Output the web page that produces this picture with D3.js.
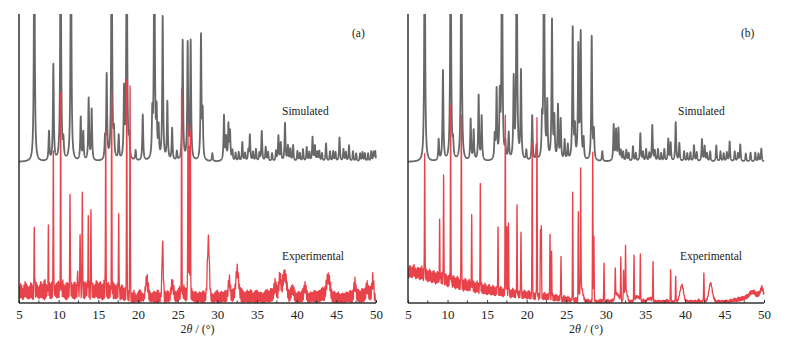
<!DOCTYPE html>
<html>
<head>
<meta charset="utf-8">
<script src="https://cdn.jsdelivr.net/npm/d3@7"></script>
<style>
  body { margin: 0; background: #fff; }
  svg text { font-family: "Liberation Serif", "DejaVu Serif", serif; fill: #222; }
</style>
</head>
<body>
<svg id="chart" width="798" height="344"></svg>
<script>
// ---- data ----
const xTicks = [5, 10, 15, 20, 25, 30, 35, 40, 45, 50];
const xMinor = [7.5, 12.5, 17.5, 22.5, 27.5, 32.5, 37.5, 42.5, 47.5];
const bgStep = 0.25; // noise band read every 0.25 degrees from 5 to 50

// simulated pattern (a): [2theta, intensity]
const simPeaksA = [
  [6.93, 260], [8.78, 29], [9.33, 96], [10.25, 260], [10.6, 17], [11.55, 260], [12.78, 43], [13.1, 28],
  [13.78, 62], [14.16, 51], [15.84, 19], [16.05, 84], [16.68, 260], [16.97, 24], [17.57, 24], [18.24, 68],
  [18.58, 260], [18.9, 20], [19.7, 10], [20.6, 46], [21.8, 42], [22.06, 260], [22.35, 44], [22.6, 30],
  [23.11, 143], [23.7, 58], [24.3, 32], [24.9, 9], [25.63, 120], [26.26, 116], [26.64, 118], [27.94, 124],
  [28.15, 45], [29.37, 8], [30.84, 45], [31.1, 22], [31.4, 35], [31.6, 28], [31.9, 10], [32.3, 8],
  [32.7, 9], [33.15, 19], [33.5, 8], [33.9, 10], [34.1, 26], [34.5, 9], [34.87, 12], [35.3, 8],
  [35.6, 30], [36.1, 14], [36.4, 9], [36.9, 8], [37.4, 10], [37.7, 25], [38.0, 18], [38.53, 38],
  [38.9, 15], [39.2, 12], [39.55, 16], [40.1, 10], [40.4, 8], [40.8, 12], [41.27, 14], [41.6, 9],
  [42.0, 24], [42.3, 15], [42.6, 9], [42.86, 10], [43.2, 8], [43.7, 18], [44.2, 10], [44.6, 10],
  [44.9, 9], [45.4, 24], [45.9, 12], [46.2, 9], [46.6, 16], [47.1, 10], [47.5, 8], [48.0, 8],
  [48.3, 9], [48.6, 8], [49.0, 8], [49.4, 10], [49.7, 9], [49.9, 10]
];

// simulated pattern (b)
const simPeaksB = [
  [7.11, 260], [8.88, 21], [9.42, 90], [10.39, 260], [10.7, 15], [11.74, 260], [12.92, 41], [13.3, 30],
  [13.93, 65], [14.31, 44], [15.96, 23], [16.2, 69], [16.6, 60], [16.88, 260], [17.3, 15], [17.73, 26],
  [18.36, 79], [18.74, 260], [19.28, 88], [19.96, 10], [20.7, 45], [21.25, 15], [21.94, 35], [22.19, 260],
  [22.6, 55], [23.2, 139], [23.5, 40], [23.96, 54], [24.3, 40], [24.8, 20], [25.2, 15], [25.82, 132],
  [26.1, 30], [26.53, 112], [26.83, 125], [27.2, 20], [28.22, 124], [28.5, 28], [29.56, 10], [31.0, 36],
  [31.3, 30], [31.6, 32], [31.9, 10], [32.2, 9], [32.6, 11], [32.9, 8], [33.44, 15], [33.8, 8],
  [34.37, 28], [34.7, 9], [35.1, 12], [35.5, 8], [35.88, 36], [36.2, 10], [36.6, 12], [37.0, 8],
  [37.4, 12], [37.9, 22], [38.2, 18], [38.84, 39], [39.3, 18], [39.9, 10], [40.3, 8], [40.7, 9],
  [41.15, 16], [41.5, 9], [42.16, 22], [42.5, 15], [42.8, 8], [43.2, 10], [43.97, 16], [44.5, 10],
  [44.9, 8], [45.3, 9], [45.66, 20], [46.3, 10], [46.7, 8], [47.0, 17], [47.7, 8], [48.3, 9],
  [48.9, 9], [49.3, 8], [49.66, 13]
];

// experimental (a): sharp reflections [2theta, intensity]
const expSharpA = [
  [6.93, 64], [8.7, 60], [9.33, 143], [10.25, 192], [11.43, 99], [12.4, 21], [12.7, 63], [12.98, 105],
  [13.73, 67], [14.07, 83], [15.93, 165], [16.68, 192], [17.57, 78], [18.58, 220], [19.0, 216],
  [25.5, 203], [26.3, 172], [26.45, 150], [26.6, 163]
];
// experimental (a): broad humps [2theta, intensity, width]
const expBroadA = [
  [21.1, 16, 0.15], [23.1, 52, 0.08], [24.3, 12, 0.15], [28.87, 55, 0.12], [31.5, 14, 0.12],
  [32.5, 26, 0.18], [37.3, 8, 0.15], [37.9, 16, 0.12], [38.5, 20, 0.2], [39.5, 8, 0.15],
  [41.05, 10, 0.12], [44.0, 18, 0.2], [47.35, 12, 0.12], [48.9, 8, 0.12], [49.6, 16, 0.1]
];
// experimental (a): lower and upper edge of the noise band, 5..50 every 0.25
const expLowA = [
  4, 6, 3, 7, 5, 4, 6, 3, 5, 7, 4, 6, 5, 3, 7, 5, 4, 6, 8, 5,
  6, 4, 7, 5, 3, 6, 8, 5, 4, 6, 7, 5, 6, 4, 8, 5, 3, 6, 5, 7,
  4, 6, 3, 5, 7, 4, 6, 3, 5, 4, 6, 3, 5, 2, 4, 3, 1,
  1, 0, 2, 1, 0, 3, 1, 2, 0, 1, 2,
  1, 0, 2, 1, 3, 0, 1, 2, 0, 1, 2, 1,
  2, 4, 3, 5, 2, 4, 1, 3, 2, 1, 0, 2,
  1, 0, 2, 1, 3, 1, 0, 2, 1, 0, 1, 2,
  1, 2, 3, 1, 2, 0, 1, 2, 1, 0, 2, 1,
  0, 1, 2, 0, 1, 2, 1, 0, 1, 2, 1, 2,
  2, 3, 2, 4, 3, 5, 2, 3, 1, 2, 1, 0,
  1, 0, 2, 1, 2, 1, 0, 1, 2, 1, 0, 1,
  2, 3, 2, 4, 2, 1, 0, 1, 0, 1, 0, 1,
  0, 1, 2, 1, 0, 2, 1, 2, 0, 1, 2, 3,
  2, 3, 2, 1, 0
];
const expHighA = [
  16, 20, 14, 22, 18, 15, 21, 17, 24, 19, 15, 22, 18, 25, 16, 21, 19, 23, 17, 20,
  22, 18, 24, 16, 21, 19, 25, 17, 22, 18, 20, 24, 17, 22, 19, 26, 18, 21, 16, 23,
  19, 22, 17, 24, 18, 21, 16, 23, 19, 17, 21, 15, 19, 14, 17, 12, 13,
  9, 13, 7, 11, 14, 10, 8, 12, 15, 11, 9,
  12, 10, 14, 9, 11, 15, 10, 13, 8, 12, 14, 10,
  13, 17, 12, 19, 14, 16, 13, 15, 10, 12, 9, 11,
  10, 13, 9, 14, 12, 10, 8, 11, 13, 9, 12, 10,
  13, 11, 15, 12, 14, 10, 13, 11, 15, 12, 10, 13,
  11, 14, 9, 12, 13, 10, 11, 9, 12, 14, 11, 15,
  13, 17, 14, 18, 15, 19, 13, 16, 11, 14, 10, 12,
  9, 12, 10, 14, 11, 13, 9, 11, 10, 13, 11, 12,
  13, 16, 14, 17, 12, 14, 10, 12, 9, 11, 8, 10,
  9, 11, 10, 13, 11, 15, 12, 14, 11, 15, 13, 16,
  13, 17, 14, 15, 3
];

// experimental (b)
const expSharpB = [
  [7.11, 125], [9.0, 57], [9.5, 108], [10.39, 171], [11.74, 170], [13.05, 68], [14.14, 104], [16.38, 64],
  [17.3, 178], [17.5, 66], [17.7, 69], [18.78, 86], [19.28, 65], [20.7, 153], [21.3, 175], [21.75, 64],
  [21.85, 69], [22.95, 64], [23.15, 45], [24.34, 43], [25.82, 107], [26.53, 88], [26.83, 120],
  [28.35, 149], [28.5, 66], [29.78, 40], [31.2, 28], [31.9, 44], [32.25, 26], [32.5, 44], [33.57, 46],
  [34.37, 46], [35.97, 40], [38.2, 32], [38.84, 25], [42.4, 29]
];
const expBroadB = [
  [26.9, 15, 0.18], [31.4, 8, 0.25], [32.5, 12, 0.18], [34.0, 5, 0.25], [35.5, 3, 0.25],
  [39.6, 16, 0.22], [43.25, 18, 0.22], [48.5, 4, 0.35], [49.7, 6, 0.18]
];
const expLowB = [
  24, 27, 25, 28, 24, 26, 23, 25, 22, 24, 21, 23, 20, 22, 19, 21, 18, 20, 17, 19,
  16, 18, 15, 17, 14, 16, 13, 15, 12, 14, 12, 13, 11, 12, 10, 12, 9, 11, 9, 10,
  8, 10, 8, 9, 7, 9, 7, 8, 6, 8, 6, 7, 5, 7, 5, 6, 5, 6, 4, 6,
  4, 5, 4, 5, 3, 5, 3, 4, 3, 4, 3, 4, 2, 3, 2, 3, 2, 3, 1, 2,
  1, 2, 1, 2, 1, 1, 0, 1, 0, 1, 0, 1, 0, 1, 0, 1, 0, 0, 1, 0,
  0, 1, 0, 1, 0, 1, 0, 1, 0, 1, 0, 1, 0, 1, 0, 1, 0, 1, 0, 1,
  0, 1, 0, 1, 0, 1, 0, 1, 0, 1, 0, 1, 0, 1, 0, 1, 0, 1, 0, 1,
  0, 1, 0, 1, 0, 1, 0, 1, 0, 1, 0, 1, 0, 1, 0, 1, 0, 1, 0, 1,
  0, 1, 0, 1, 1, 2, 1, 2, 2, 3, 3, 4, 4, 5, 5, 6, 5, 6, 6, 7,
  6
];
const expHighB = [
  34, 38, 35, 39, 33, 36, 34, 37, 32, 35, 31, 34, 30, 33, 29, 32, 28, 31, 27, 30,
  26, 29, 25, 28, 24, 27, 23, 26, 22, 25, 21, 24, 20, 23, 19, 22, 18, 21, 17, 20,
  16, 19, 15, 18, 15, 17, 14, 17, 13, 16, 13, 15, 12, 15, 12, 14, 11, 14, 11, 13,
  10, 13, 10, 12, 9, 12, 9, 11, 8, 11, 8, 10, 7, 10, 7, 9, 6, 9, 5, 8,
  5, 7, 4, 6, 4, 6, 3, 5, 3, 5, 3, 4, 2, 4, 2, 3, 2, 4, 3, 4,
  2, 4, 2, 4, 2, 3, 2, 4, 2, 3, 2, 4, 2, 3, 2, 4, 2, 3, 2, 4,
  2, 3, 2, 4, 2, 3, 2, 3, 2, 3, 2, 4, 2, 3, 2, 3, 2, 3, 2, 4,
  2, 3, 2, 3, 2, 3, 2, 4, 2, 3, 2, 3, 2, 3, 2, 4, 2, 3, 2, 3,
  2, 3, 2, 4, 3, 5, 4, 6, 5, 7, 6, 8, 7, 9, 8, 10, 9, 11, 9, 12,
  10
];

// ---- layout ----
const svg = d3.select('#chart');
const plotTop = 14, plotBottom = 303;
const simOffset = 141;          // simulated trace sits above the experimental one
const grayColor = '#68686a', redColor = '#e8434b';

const panels = [
  { id: 'a', left: 19, right: 376, sim: simPeaksA, sharp: expSharpA, broad: expBroadA,
    low: expLowA, high: expHighA, label: '(a)', labelX: 352, simX: 282, expX: 282 },
  { id: 'b', left: 408, right: 764, sim: simPeaksB, sharp: expSharpB, broad: expBroadB,
    low: expLowB, high: expHighB, label: '(b)', labelX: 741, simX: 678, expX: 680 }
];

// sample grid for the traces
const grid = d3.range(5, 50.0001, 0.01);
const wiggle = 0.07; // the trace swings between the band edges every 0.07 degrees

function simProfile(peaks, t) {
  // lorentzian peak shape for the calculated pattern
  let s = 0;
  for (const [c, h] of peaks) {
    const d = (t - c) / 0.065;
    s += h / (1 + d * d);
  }
  return s;
}

// band edge at t, linear between the read samples
function edge(arr, t) {
  const u = Math.max(0, (t - 5) / bgStep);
  const i = Math.min(Math.floor(u), arr.length - 2);
  const f = Math.min(1, u - i);
  return arr[i] * (1 - f) + arr[i + 1] * f;
}

function noise(p, t) {
  const k = Math.floor((t - 5) / wiggle + 1e-9);
  const t0 = 5 + k * wiggle, t1 = t0 + wiggle;
  const v0 = k % 2 ? edge(p.high, t0) : edge(p.low, t0);
  const v1 = k % 2 ? edge(p.low, t1) : edge(p.high, t1);
  const f = (t - t0) / wiggle;
  return v0 * (1 - f) + v1 * f;
}

function expProfile(p, t) {
  let s = noise(p, t);
  for (const [c, h] of p.sharp) {
    const d = (t - c) / 0.032;
    s += h * Math.exp(-0.5 * d * d);
  }
  for (const [c, h, w] of p.broad) {
    const d = (t - c) / w;
    s += h * Math.exp(-0.5 * d * d);
  }
  return s;
}

panels.forEach(p => {
  const x = d3.scaleLinear().domain([5, 50]).range([p.left, p.right]);
  const y = d3.scaleLinear().domain([0, plotBottom - plotTop]).range([plotBottom, plotTop]);

  const g = svg.append('g').attr('class', 'panel-' + p.id);

  svg.append('clipPath').attr('id', 'clip-' + p.id)
    .append('rect')
    .attr('x', p.left).attr('y', plotTop)
    .attr('width', p.right - p.left + 2).attr('height', plotBottom - plotTop);

  const line = d3.line()
    .x(d => x(d[0]))
    .y(d => y(d[1]));

  const plot = g.append('g').attr('clip-path', `url(#clip-${p.id})`);

  // simulated
  plot.append('path')
    .datum(grid.map(t => [t, simOffset + simProfile(p.sim, t)]))
    .attr('d', line)
    .attr('fill', 'none')
    .attr('stroke', grayColor)
    .attr('stroke-width', 1.8)
    .attr('stroke-linejoin', 'round');

  // experimental
  plot.append('path')
    .datum(grid.map(t => [t, expProfile(p, t)]))
    .attr('d', line)
    .attr('fill', 'none')
    .attr('stroke', redColor)
    .attr('stroke-width', 1.3)
    .attr('stroke-linejoin', 'round');

  // axes
  const xAxis = d3.axisBottom(x).tickValues(xTicks).tickSize(-3).tickPadding(7).tickFormat(d3.format('d'));
  const axG = g.append('g').attr('transform', `translate(0,${plotBottom})`).call(xAxis);
  axG.select('.domain').remove();
  axG.selectAll('.tick line').attr('stroke', '#333').attr('stroke-width', 1);
  axG.selectAll('.tick text').attr('font-size', 13).attr('fill', '#222');

  g.selectAll('.minor')
    .data(xMinor)
    .join('line')
    .attr('class', 'minor')
    .attr('x1', d => x(d)).attr('x2', d => x(d))
    .attr('y1', plotBottom).attr('y2', plotBottom - 2.5)
    .attr('stroke', '#333').attr('stroke-width', 1);

  g.append('line')
    .attr('x1', p.left).attr('x2', p.right)
    .attr('y1', plotBottom).attr('y2', plotBottom)
    .attr('stroke', '#333').attr('stroke-width', 1.4);
  g.append('line')
    .attr('x1', p.left).attr('x2', p.left)
    .attr('y1', plotTop).attr('y2', plotBottom)
    .attr('stroke', '#222').attr('stroke-width', 1.4);

  // axis title
  const title = g.append('text')
    .attr('x', (p.left + p.right) / 2)
    .attr('y', 333)
    .attr('text-anchor', 'middle')
    .attr('font-size', 12);
  title.append('tspan').text('2');
  title.append('tspan').attr('font-style', 'italic').text('θ');
  title.append('tspan').text(' / (°)');

  // labels
  g.append('text').attr('x', p.labelX).attr('y', 37).attr('font-size', 11.5).text(p.label);
  g.append('text').attr('x', p.simX).attr('y', 115).attr('font-size', 11.5).text('Simulated');
  g.append('text').attr('x', p.expX).attr('y', 260).attr('font-size', 11.5).text('Experimental');
});
</script>
</body>
</html>
